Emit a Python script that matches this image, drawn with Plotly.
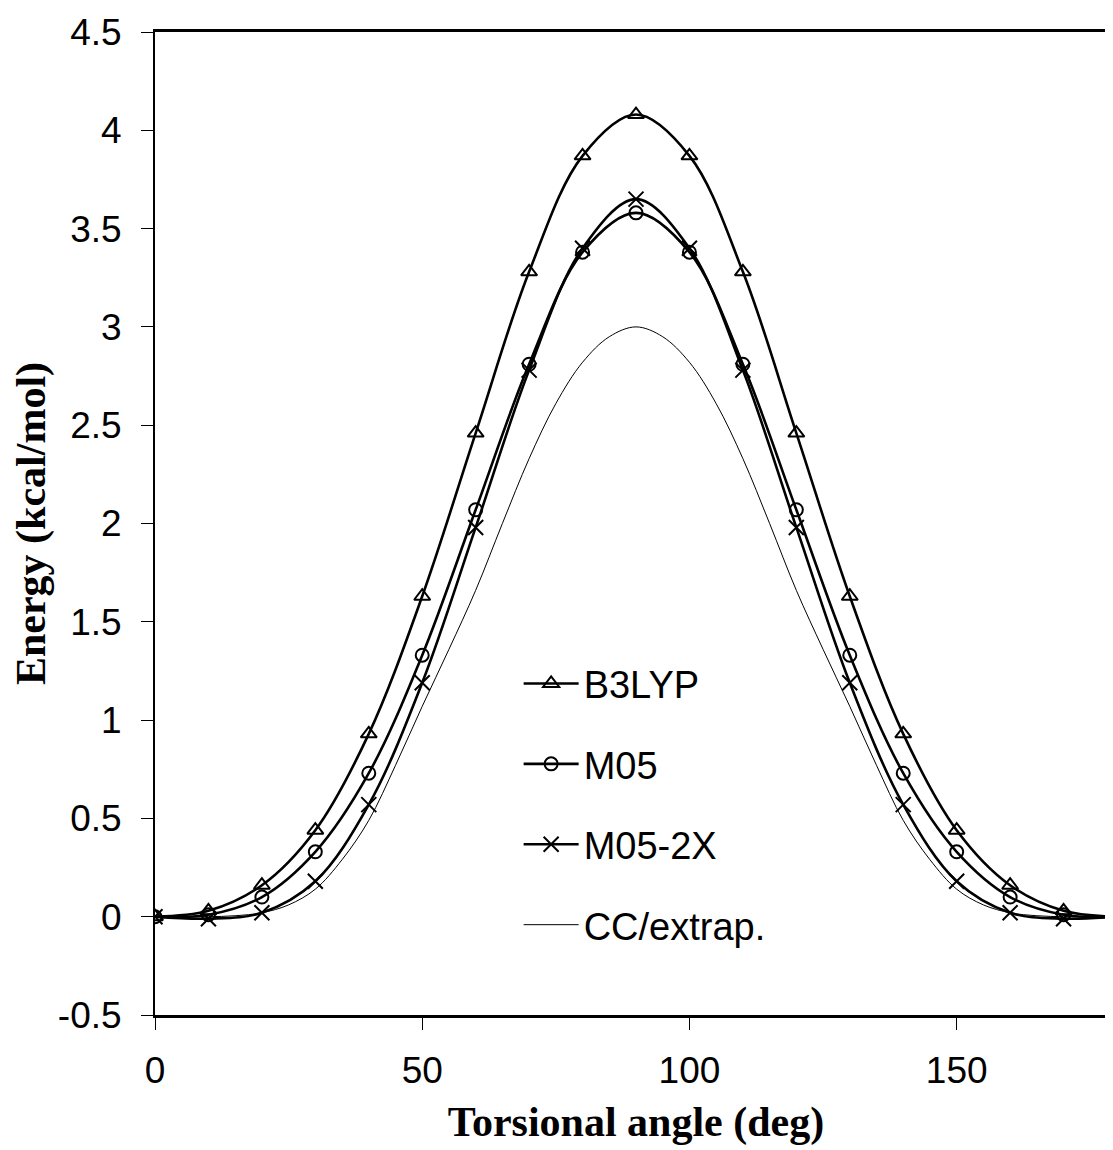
import plotly.graph_objects as go

angles = [0, 10, 20, 30, 40, 50, 60, 70, 80, 90, 100, 110, 120, 130, 140, 150, 160, 170, 180]
b3lyp = [0, 0.03, 0.16, 0.44, 0.93, 1.63, 2.46, 3.28, 3.87, 4.08, 3.87, 3.28, 2.46, 1.63, 0.93, 0.44, 0.16, 0.03, 0]
m05 = [0, 0.01, 0.10, 0.33, 0.73, 1.33, 2.07, 2.81, 3.38, 3.58, 3.38, 2.81, 2.07, 1.33, 0.73, 0.33, 0.10, 0.01, 0]
m052x = [0, -0.01, 0.02, 0.18, 0.57, 1.19, 1.98, 2.78, 3.40, 3.65, 3.40, 2.78, 1.98, 1.19, 0.57, 0.18, 0.02, -0.01, 0]

cc_angles = [0, 5, 10, 15, 20, 25, 30, 35, 40, 45, 50, 55, 60, 65, 70, 75, 80, 85, 90,
             95, 100, 105, 110, 115, 120, 125, 130, 135, 140, 145, 150, 155, 160, 165, 170, 175, 180]
cc = [0, 0, 0, 0.005, 0.02, 0.06, 0.14, 0.29, 0.49, 0.77, 1.07, 1.36, 1.66, 2.00, 2.33, 2.61, 2.82, 2.95, 3.0,
      2.95, 2.82, 2.61, 2.33, 2.00, 1.66, 1.36, 1.07, 0.77, 0.49, 0.29, 0.14, 0.06, 0.02, 0.005, 0, 0, 0]

names = ["B3LYP", "M05", "M05-2X", "CC/extrap."]
x_ticks = [0, 50, 100, 150]
y_ticks = [-0.5, 0, 0.5, 1, 1.5, 2, 2.5, 3, 3.5, 4, 4.5]

fig = go.Figure()
series = [
    (b3lyp, names[0], "triangle-up-open", 14),
    (m05, names[1], "circle-open", 13),
    (m052x, names[2], "x-thin-open", 15),
]
for i, (vals, nm, sym, sz) in enumerate(series):
    fig.add_trace(go.Scatter(
        x=angles, y=vals, name=nm, mode="lines+markers", legendgroup=str(i),
        line=dict(color="black", width=2.6, shape="spline", smoothing=1.0),
        marker=dict(symbol=sym, size=sz, color="black", line=dict(color="black", width=2)),
    ))
fig.add_trace(go.Scatter(
    x=cc_angles, y=cc, name=names[3], mode="lines", legendgroup="3",
    line=dict(color="black", width=1, shape="spline", smoothing=1.0),
))

fig.update_layout(
    width=1109, height=1142,
    margin=dict(l=147, r=0, t=24, b=135),
    paper_bgcolor="white", plot_bgcolor="white",
    font=dict(family="Liberation Sans, Arial", size=37, color="black"),
    showlegend=True,
    legend=dict(x=0.378, y=0.369, xanchor="left", yanchor="top",
                bgcolor="rgba(0,0,0,0)", borderwidth=0,
                font=dict(size=38, family="Liberation Sans, Arial"),
                tracegroupgap=28, itemwidth=55),
)
fig.update_xaxes(
    range=[0, 180], tickvals=x_ticks, ticktext=[str(t) for t in x_ticks],
    showgrid=False, zeroline=False,
    showline=True, linecolor="black", linewidth=3, mirror=True,
    ticks="outside", ticklen=12, tickwidth=1, tickcolor="black",
    ticklabelstandoff=9,
    title=dict(text="<b>Torsional angle (deg)</b>",
               font=dict(family="Liberation Serif, Times New Roman", size=42), standoff=17),
)
fig.update_yaxes(
    range=[-0.5, 4.5], tickvals=y_ticks, ticktext=[f"{t:g}" for t in y_ticks],
    showgrid=False, zeroline=False,
    showline=True, linecolor="black", linewidth=2,
    ticks="outside", ticklen=12, tickwidth=1, tickcolor="black",
    ticklabelstandoff=12,
    title=dict(text="<b>Energy (kcal/mol)</b>",
               font=dict(family="Liberation Serif, Times New Roman", size=42), standoff=4),
)

fig.write_html("out.html")
